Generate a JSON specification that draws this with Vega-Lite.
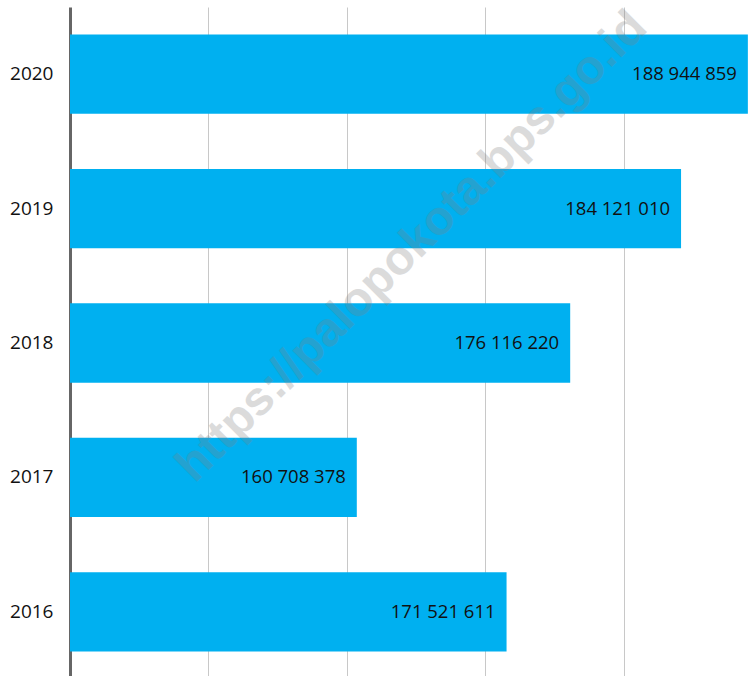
{
  "$schema": "https://vega.github.io/schema/vega-lite/v6.json",
  "width": 685,
  "height": 672,
  "autosize": {"type": "none"},
  "padding": {"left": 70, "top": 7, "right": 0, "bottom": 0},
  "background": "white",
  "config": {
    "view": {"stroke": null},
    "locale": {"number": {"decimal": ",", "thousands": " ", "grouping": [3], "currency": ["", ""]}}
  },
  "data": {
    "values": [
      {"year": "2020", "value": 188944859},
      {"year": "2019", "value": 184121010},
      {"year": "2018", "value": 176116220},
      {"year": "2017", "value": 160708378},
      {"year": "2016", "value": 171521611}
    ]
  },
  "encoding": {
    "y": {
      "field": "year", "type": "nominal", "sort": "descending",
      "scale": {"paddingInner": 0.41, "paddingOuter": 0.205},
      "axis": {"title": null, "ticks": false, "grid": false, "domainColor": "#666666", "domainWidth": 3,
               "labelFont": "Open Sans", "labelFontSize": 19, "labelColor": "#111111", "labelPadding": 17}
    }
  },
  "layer": [
    {
      "mark": {"type": "bar", "color": "#00B0F0", "clip": true},
      "encoding": {
        "x": {
          "field": "value", "type": "quantitative",
          "scale": {"domain": [140000000, 189460000], "nice": false, "zero": false},
          "axis": {"title": null, "labels": false, "ticks": false, "domain": false, "grid": true,
                   "gridColor": "#c8c8c8", "gridWidth": 1, "values": [150000000, 160000000, 170000000, 180000000]}
        }
      }
    },
    {
      "mark": {"type": "text", "align": "right", "baseline": "middle", "dx": -11, "font": "Open Sans", "fontSize": 18.5, "color": "#111111"},
      "encoding": {
        "x": {"field": "value", "type": "quantitative"},
        "text": {"field": "value", "type": "quantitative", "format": ",d"}
      }
    },
    {
      "data": {"values": [{"t": "https://palopokota.bps.go.id"}]},
      "mark": {"type": "text", "angle": -45, "align": "center", "baseline": "middle", "font": "Liberation Sans", "fontWeight": "bold", "fontSize": 48, "color": "#808080", "opacity": 0.28},
      "encoding": {
        "x": {"datum": 164700000, "type": "quantitative"},
        "y": {"datum": "2019"},
        "yOffset": {"value": 78},
        "text": {"field": "t"}
      }
    }
  ]
}
